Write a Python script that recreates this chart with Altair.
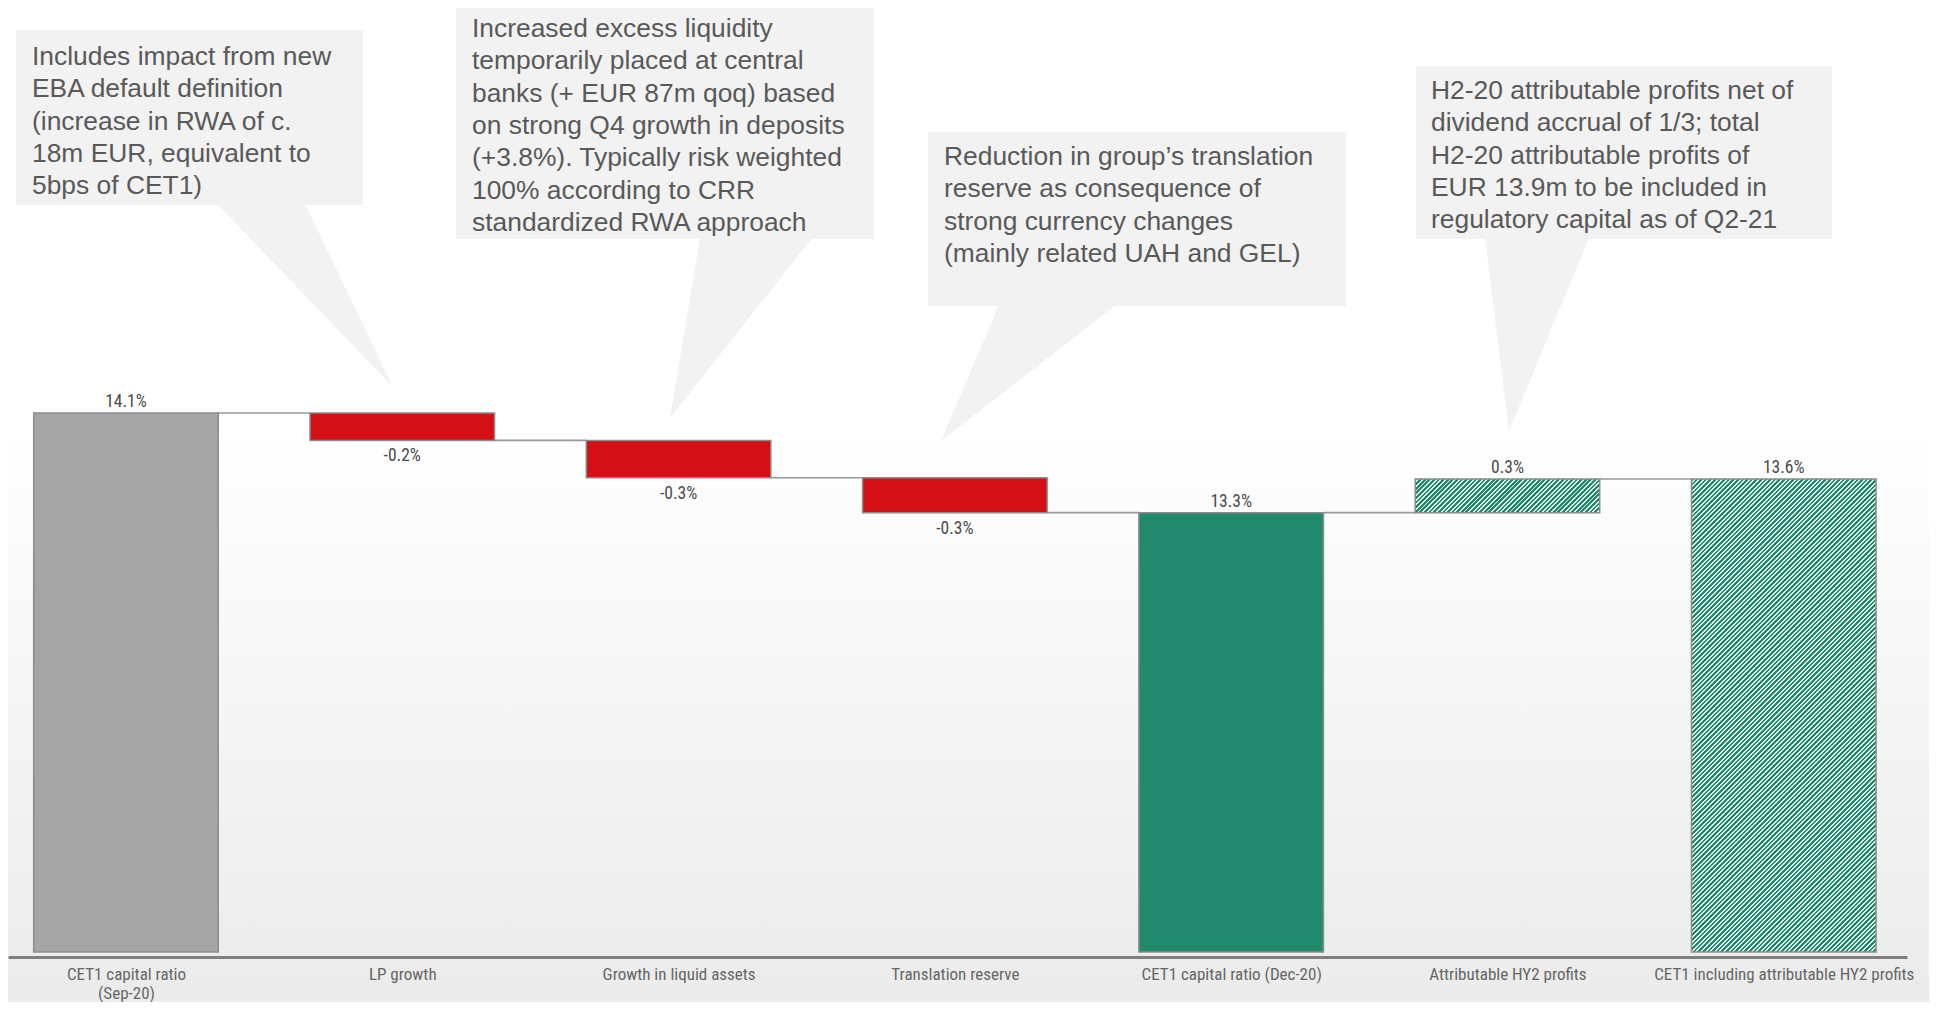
import json
import altair as alt
import pandas as pd

# ---------------- data ----------------
categories = [
    "CET1 capital ratio\n(Sep-20)",
    "LP growth",
    "Growth in liquid assets",
    "Translation reserve",
    "CET1 capital ratio (Dec-20)",
    "Attributable HY2 profits",
    "CET1 including attributable HY2 profits",
]
values = [14.1, -0.22, -0.30, -0.28, 13.3, 0.27, 13.57]
kinds = ["total", "delta", "delta", "delta", "total", "delta", "total"]
fills = ["#a5a5a5", "#d40f15", "#d40f15", "#d40f15", "#218a6d", "hatch", "hatch"]

notes = [
    "Includes impact from new\nEBA default definition\n(increase in RWA of c.\n18m EUR, equivalent to\n5bps of CET1)",
    "Increased excess liquidity\ntemporarily placed at central\nbanks (+ EUR 87m qoq) based\non strong Q4 growth in deposits\n(+3.8%). Typically risk weighted\n100% according to CRR\nstandardized RWA approach",
    "Reduction in group\u2019s translation\nreserve as consequence of\nstrong currency changes\n(mainly related UAH and GEL)",
    "H2-20 attributable profits net of\ndividend accrual of 1/3; total\nH2-20 attributable profits of\nEUR 13.9m to be included in\nregulatory capital as of Q2-21",
]

# ---------------- layout (pixels of the page) ----------------
W, H = 1899, 949
PAD_R, PAD_B = 22, 45
X_LO, X_HI = -0.427, 6.446
Y_LO, Y_HI = 9.734, 17.350
BASE = 9.774          # floor of the total bars
HALF = 0.334          # half bar width in category units

def ax(px):
    return X_LO + (px - 8) * (X_HI - X_LO) / W

def ay(py):
    return Y_HI - (py - 8) * (Y_HI - Y_LO) / H

# callout boxes: left, right, top, bottom, text-x, first-baseline
boxes_px = [
    (16, 363, 30, 205, 32, 65),
    (456, 874, 8, 239, 472, 37),
    (928, 1346, 132, 306, 944, 165),
    (1416, 1832, 66, 239, 1431, 99),
]
# pointers: base-left, base-right, base-y, tip-x, tip-y
pointers_px = [
    (217, 305, 204, 393, 387),
    (700, 812, 238, 670, 418),
    (999, 1116, 305, 941, 441),
    (1485, 1589, 238, 1509, 431),
]

FONT_TXT = "Liberation Sans, Arial, sans-serif"
FONT_NARROW = "Liberation Sans Narrow, Arial Narrow, Roboto Condensed, DejaVu Sans Condensed, sans-serif"

# ---------------- tables ----------------
rows = []
level = None
for i, (c, v, k, f) in enumerate(zip(categories, values, kinds, fills)):
    if k == "total":
        start, end = BASE, v
        level = v
    else:
        start, end = level, level + v
        level = end
    rows.append(dict(i=i, x0=i - HALF, x1=i + HALF, lo=min(start, end), hi=max(start, end),
                     val=v, label=f"{v:.1f}%", fill=f, level=level,
                     neg=(v < 0)))
bars = pd.DataFrame(rows)

conn = pd.DataFrame([
    dict(x0=r["i"] + HALF, x1=r["i"] + 1 - HALF, y=r["level"]) for r in rows[:-1]
])

box_df = pd.DataFrame([
    dict(x0=ax(l), x1=ax(r), y0=ay(t), y1=ay(b), tx=ax(tx), ty=ay(ty), text=n)
    for (l, r, t, b, tx, ty), n in zip(boxes_px, notes)
])
ptr_rows = []
for j, (bl, br, by, tx, ty) in enumerate(pointers_px):
    ptr_rows.append(dict(id=j, py=ay(by), a=ax(bl), b=ax(br)))
    ptr_rows.append(dict(id=j, py=ay(ty), a=ax(tx), b=ax(tx)))
ptr_df = pd.DataFrame(ptr_rows)

xs = alt.Scale(domain=[X_LO, X_HI], nice=False, zero=False)
ys = alt.Scale(domain=[Y_LO, Y_HI], nice=False, zero=False)

label_expr = "split([" + ",".join(json.dumps(c.replace("\n", "|")) for c in categories) + "][datum.value], '|')"

x_axis = alt.Axis(
    values=list(range(len(categories))), labelExpr=label_expr, title=None,
    ticks=False, grid=False, domain=True, domainColor="#7f7f7f", domainWidth=3,
    labelFont=FONT_NARROW, labelFontSize=17, labelColor="#666666",
    labelBaseline="alphabetic", labelPadding=22, labelLineHeight=19.5,
    labelOverlap=False, labelFlush=False, labelBound=False, labelLimit=0, zindex=2,
)

# ---------------- layers ----------------
bg = alt.Chart(pd.DataFrame({"k": [0]})).mark_rect(
    fill=alt.LinearGradient(
        gradient="linear",
        stops=[alt.GradientStop(color="#ffffff", offset=0),
               alt.GradientStop(color="#ffffff", offset=0.42),
               alt.GradientStop(color="#ebebeb", offset=1)],
        x1=0, x2=0, y1=0, y2=1),
).encode(x=alt.value(0), x2=alt.value(W + PAD_R), y=alt.value(0), y2=alt.value(H + PAD_B))

ptr = alt.Chart(ptr_df).mark_area(orient="horizontal", fill="#f2f2f2").encode(
    y=alt.Y("py:Q", scale=ys, axis=None),
    x=alt.X("a:Q", scale=xs, axis=x_axis),
    x2="b:Q",
    detail="id:N",
)

box = alt.Chart(box_df).mark_rect(fill="#f2f2f2").encode(
    x=alt.X("x0:Q", scale=xs), x2="x1:Q",
    y=alt.Y("y0:Q", scale=ys), y2="y1:Q",
)

box_txt = alt.Chart(box_df).mark_text(
    align="left", baseline="alphabetic", font=FONT_TXT, fontSize=26.4,
    color="#595959", lineBreak="\n", lineHeight=32.3,
).encode(x=alt.X("tx:Q", scale=xs), y=alt.Y("ty:Q", scale=ys), text="text:N")

connectors = alt.Chart(conn).mark_rule(color="#999999", strokeWidth=1.6).encode(
    x=alt.X("x0:Q", scale=xs), x2="x1:Q", y=alt.Y("y:Q", scale=ys),
)

solid = alt.Chart(bars).transform_filter("datum.fill != 'hatch'").mark_rect(
    stroke="#8c8c8c", strokeWidth=1.5,
).encode(
    x=alt.X("x0:Q", scale=xs), x2="x1:Q",
    y=alt.Y("lo:Q", scale=ys), y2="hi:Q",
    fill=alt.Fill("fill:N", scale=None),
)

def hatch(w, h, q=4.6, share=0.58, c1="#218a6d", c2="#e4f2ec"):
    L = w + h
    c = L / (w * w + h * h)
    stops = []
    k = 0
    while k * q < L:
        a = k * q / L
        b = min((k * q + q * share) / L, 1.0)
        e = min((k + 1) * q / L, 1.0)
        stops += [(a, c1), (b, c1), (b, c2), (e, c2)]
        k += 1
    return alt.LinearGradient(
        gradient="linear",
        stops=[alt.GradientStop(offset=round(o, 5), color=col) for o, col in stops],
        x1=0, y1=0, x2=w * c, y2=h * c)

px_x = W / (X_HI - X_LO)
px_y = H / (Y_HI - Y_LO)
hatched = []
for r in rows:
    if r["fill"] != "hatch":
        continue
    w = 2 * HALF * px_x
    h = (r["hi"] - r["lo"]) * px_y
    hatched.append(
        alt.Chart(bars).transform_filter(f"datum.i == {r['i']}").mark_rect(
            fill=hatch(w, h), stroke="#8c8c8c", strokeWidth=1.5,
        ).encode(
            x=alt.X("x0:Q", scale=xs), x2="x1:Q",
            y=alt.Y("lo:Q", scale=ys), y2="hi:Q",
        )
    )

lab_pos = alt.Chart(bars).transform_filter("!datum.neg").mark_text(
    font=FONT_NARROW, fontSize=17.5, color="#4a4a4a", baseline="alphabetic", dy=-6,
).encode(x=alt.X("i:Q", scale=xs), y=alt.Y("hi:Q", scale=ys), text="label:N")

lab_neg = alt.Chart(bars).transform_filter("datum.neg").mark_text(
    font=FONT_NARROW, fontSize=17.5, color="#4a4a4a", baseline="alphabetic", dy=21,
).encode(x=alt.X("i:Q", scale=xs), y=alt.Y("lo:Q", scale=ys), text="label:N")

chart = alt.layer(
    bg, ptr, box, box_txt, connectors, solid, *hatched, lab_pos, lab_neg,
).properties(
    width=W, height=H,
    autosize=alt.AutoSizeParams(type="none"),
    padding={"left": 0, "top": 0, "right": PAD_R, "bottom": PAD_B},
).configure_view(stroke=None).configure(background="#ffffff")

chart.save("out.html", embed_options={"renderer": "svg", "actions": False})
